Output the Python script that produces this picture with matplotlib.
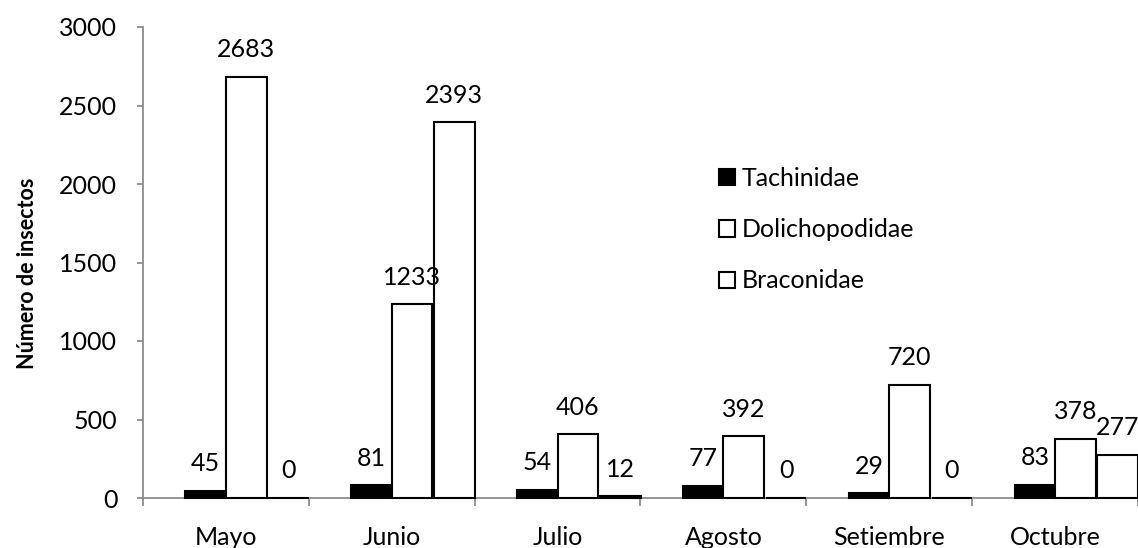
import matplotlib
matplotlib.use("Agg")
import matplotlib.pyplot as plt
import numpy as np

months = ["Mayo", "Junio", "Julio", "Agosto", "Setiembre", "Octubre"]
series_names = ["Tachinidae", "Dolichopodidae", "Braconidae"]
tachinidae = [45, 81, 54, 77, 29, 83]
dolichopodidae = [2683, 1233, 406, 392, 720, 378]
braconidae = [0, 2393, 12, 0, 0, 277]
yticks = [0, 500, 1000, 1500, 2000, 2500, 3000]

plt.rcParams['font.family'] = ['Lato', 'DejaVu Sans']

W, H = 1138, 548
FS = 18
fig = plt.figure(figsize=(W / 100, H / 100), dpi=100)
ax = fig.add_axes([143 / W, (H - 498) / H, (W - 143) / W, 471 / H])

x = np.arange(len(months))
bw = 0.245
offsets = [-0.122, 0.123, 0.3775]
faces = ["black", "white", "white"]
data = [tachinidae, dolichopodidae, braconidae]

for vals, off, fc, name in zip(data, offsets, faces, series_names):
    bars = ax.bar(x + off, vals, width=bw, color=fc, edgecolor="black",
                  linewidth=1.5, label=name, clip_on=False, zorder=3)
    for b, v in zip(bars, vals):
        ax.annotate(str(v), (b.get_x() + b.get_width() / 2, v),
                    xytext=(0, 19.5), textcoords="offset points",
                    ha="center", va="center", fontsize=FS, color="black",
                    zorder=5)

ax.set_xlim(-0.5, len(months) - 0.5)
ax.set_ylim(0, 3000)
ax.set_yticks(yticks)
ax.set_xticks(x)
ax.set_xticklabels(months)
ax.set_xticks(np.arange(-0.5, len(months) + 0.5, 1.0), minor=True)

gray = "#8c8c8c"
for s in ["top", "right"]:
    ax.spines[s].set_visible(False)
for s in ["left", "bottom"]:
    ax.spines[s].set_color(gray)
    ax.spines[s].set_linewidth(1.3)
    ax.spines[s].set_zorder(2)

ax.tick_params(axis="x", which="major", length=0, pad=20, labelsize=FS)
ax.tick_params(axis="x", which="minor", length=5.5, width=1.3, color=gray, direction="out")
ax.tick_params(axis="y", which="major", length=4.5, width=1.3, color=gray, pad=14, labelsize=FS)

ax.set_ylabel("Número de insectos", fontsize=15.5, fontweight="bold")
ax.yaxis.set_label_coords(-0.1055, 0.478)

leg = ax.legend(loc="upper left", bbox_to_anchor=(719 / W, (H - 167) / H),
                bbox_transform=fig.transFigure, frameon=False, fontsize=FS,
                handlelength=0.62, handleheight=0.62, handletextpad=0.3,
                labelspacing=1.13, borderpad=0, borderaxespad=0)

fig.savefig("out.png", dpi=100)
